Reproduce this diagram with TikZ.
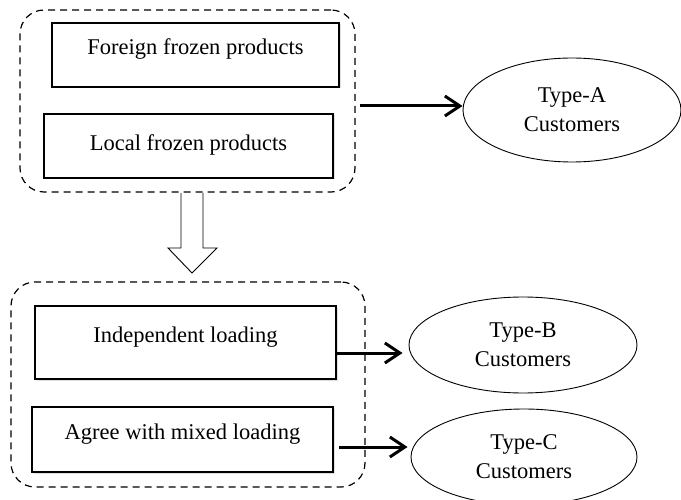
\documentclass[tikz,border=0pt]{standalone}
\usepackage{fontspec}
\setmainfont{Liberation Serif}
\usetikzlibrary{arrows.meta,shapes,shadows}

\begin{document}
\begin{tikzpicture}[x=1pt,y=-1pt,
		font=\fontsize{22.5}{29}\selectfont,
		prodbox/.style={draw, rectangle, fill=white, line width=2.2pt, inner sep=0pt, text height=14pt, text depth=14pt,
			drop shadow={shadow xshift=1.5pt, shadow yshift=-1.5pt, opacity=0.25}},
		custnode/.style={draw, ellipse, line width=0.9pt, inner sep=0pt, align=center},
		groupbox/.style={draw, rectangle, dash pattern=on 7pt off 5pt, line width=1.2pt, rounded corners=24pt, inner sep=0pt},
		flowarrow/.style={line width=3pt, -{Straight Barb[length=15pt,width=20pt,line width=3pt]}}]
	\useasboundingbox (0,0) rectangle (681,500);
	%% Groups ------
	\node[groupbox, minimum width=335pt, minimum height=182pt] (grpA) at (187.5,101) {};
	\node[groupbox, minimum width=354pt, minimum height=205pt] (grpB) at (188,384.5) {};
	%% Products ------
	\node[prodbox, minimum width=287pt, minimum height=64pt] (foreign) at (195.5,55) {Foreign frozen products};
	\node[prodbox, minimum width=289pt, minimum height=64pt, text height=15pt, text depth=5pt] (local) at (188.5,146) {Local frozen products};
	\node[prodbox, minimum width=301pt, minimum height=73pt] (indep) at (185.5,342.5) {Independent loading};
	\node[prodbox, minimum width=301pt, minimum height=65pt] (mixed) at (182.5,439.5) {Agree with mixed loading};
	%% Customers ------
	\node[custnode, minimum width=218pt, minimum height=104pt] (typeA) at (572,110) {Type-A\\Customers};
	\node[custnode, minimum width=228pt, minimum height=96pt] (typeB) at (523,345) {Type-B\\Customers};
	\node[custnode, minimum width=226pt, minimum height=96pt] (typeC) at (524,457) {Type-C\\Customers};
	%% Hollow arrow ------
	\draw[line width=0.9pt, line join=miter] (181,193) -- (181,248) -- (168,248) -- (192,273) -- (217,248) -- (203,248) -- (203,193);
	%% Edges ---------
	\coordinate (outA) at (360,106);
	\coordinate (outB) at ([yshift=-10.5pt]indep.east);
	\coordinate (outC) at ([shift={(5pt,-7.5pt)}]mixed.east);
	\draw[flowarrow] (outA) -- (outA -| typeA.west);
	\draw[flowarrow, shorten >=6pt] (outB) -- (outB -| typeB.west);
	\draw[flowarrow, shorten >=3pt] (outC) -- (outC -| typeC.west);
\end{tikzpicture}
\end{document}
